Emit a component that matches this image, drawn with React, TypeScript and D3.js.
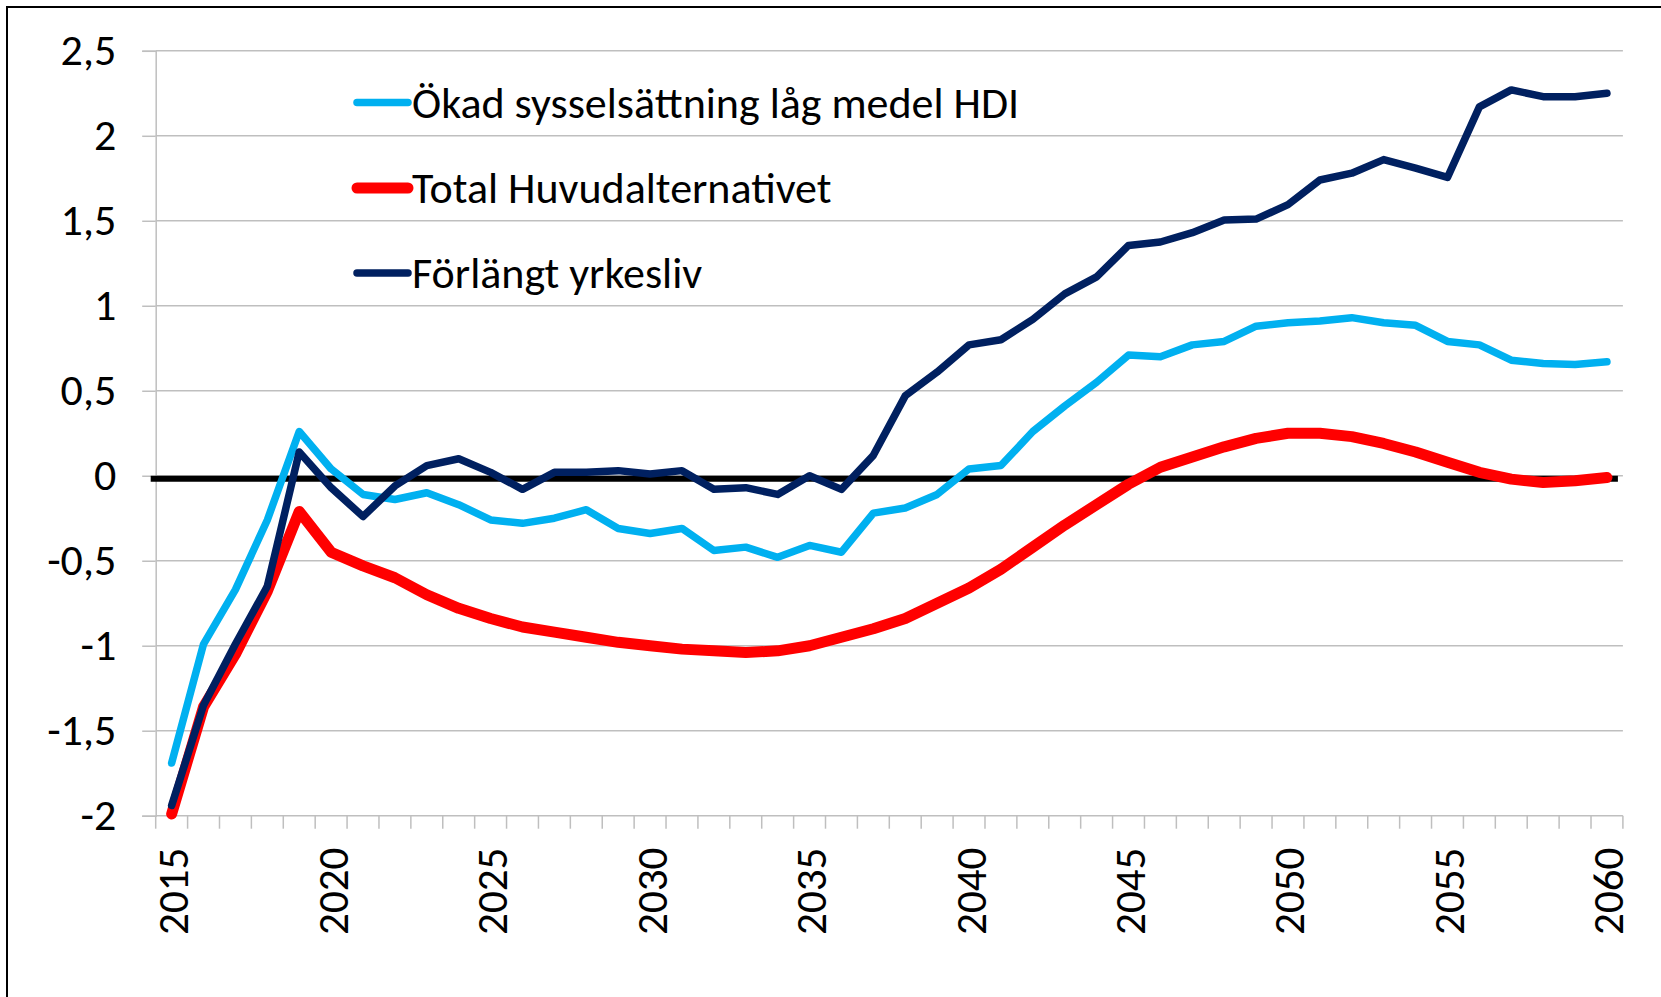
import React, { useEffect, useRef } from 'react';
import * as d3 from 'd3';

const years = d3.range(2015, 2061);

// Ökad sysselsättning låg medel HDI
const okadSysselsattning = [
  -1.69, -0.99, -0.67, -0.26, 0.26, 0.04, -0.11, -0.14, -0.10, -0.17,
  -0.26, -0.28, -0.25, -0.20, -0.31, -0.34, -0.31, -0.44, -0.42, -0.48,
  -0.41, -0.45, -0.22, -0.19, -0.11, 0.04, 0.06, 0.26, 0.41, 0.55,
  0.71, 0.70, 0.77, 0.79, 0.88, 0.90, 0.91, 0.93, 0.90, 0.885,
  0.79, 0.77, 0.68, 0.66, 0.655, 0.67,
];

// Total Huvudalternativet
const totalHuvudalternativet = [
  -1.99, -1.36, -1.05, -0.68, -0.21, -0.45, -0.53, -0.60, -0.70, -0.78,
  -0.84, -0.89, -0.92, -0.95, -0.98, -1.00, -1.02, -1.03, -1.04, -1.03,
  -1.00, -0.95, -0.90, -0.84, -0.75, -0.66, -0.55, -0.42, -0.29, -0.17,
  -0.05, 0.05, 0.11, 0.17, 0.22, 0.25, 0.25, 0.23, 0.19, 0.14,
  0.08, 0.02, -0.02, -0.04, -0.03, -0.01,
];

// Förlängt yrkesliv
const forlangtYrkesliv = [
  -1.94, -1.35, -0.99, -0.65, 0.14, -0.07, -0.24, -0.06, 0.06, 0.10,
  0.02, -0.08, 0.02, 0.02, 0.03, 0.01, 0.03, -0.08, -0.07, -0.11,
  0.00, -0.08, 0.12, 0.47, 0.61, 0.77, 0.80, 0.92, 1.07, 1.17,
  1.355, 1.375, 1.43, 1.505, 1.51, 1.595, 1.74, 1.78, 1.86, 1.81,
  1.755, 2.17, 2.27, 2.23, 2.23, 2.25,
];

const yTicks = [-2, -1.5, -1, -0.5, 0, 0.5, 1, 1.5, 2, 2.5];
const xLabelYears = [2015, 2020, 2025, 2030, 2035, 2040, 2045, 2050, 2055, 2060];
const zeroLineLevel = -0.017;

const series = [
  { name: 'Ökad sysselsättning låg medel HDI', values: okadSysselsattning, color: '#00B0F0', width: 7.5 },
  { name: 'Total Huvudalternativet', values: totalHuvudalternativet, color: '#FF0000', width: 11 },
  { name: 'Förlängt yrkesliv', values: forlangtYrkesliv, color: '#002060', width: 7.5 },
];

const W = 1661;
const H = 997;
const FONT = "Carlito, Calibri, 'Open Sans', sans-serif";

const App = () => {
  const svgRef = useRef<SVGSVGElement>(null);

  useEffect(() => {
    const svg = d3.select(svgRef.current);
    svg.selectAll('*').remove();

    const left = 155.7;
    const right = 1622.9;
    const top = 50.8;
    const bottom = 815.7;

    const x = d3.scaleBand<number>().domain(years).range([left, right]).padding(0);
    const cx = (yr: number) => (x(yr) as number) + x.bandwidth() / 2;
    const y = d3.scaleLinear().domain([-2, 2.5]).range([bottom, top]);

    // outer frame (extends past the window at right and bottom)
    svg.append('rect')
      .attr('x', 7).attr('y', 7)
      .attr('width', W + 20).attr('height', H + 20)
      .attr('fill', 'white')
      .attr('stroke', 'black')
      .attr('stroke-width', 2);

    // y axis with ticks and labels (comma decimals, plain hyphen)
    const yAxis = svg.append('g')
      .attr('transform', `translate(${left},0)`)
      .call(d3.axisLeft(y)
        .tickValues(yTicks)
        .tickSize(13.5)
        .tickFormat(d => String(d).replace('.', ','))
        .tickPadding(26));
    yAxis.select('.domain').attr('stroke', '#BFBFBF').attr('stroke-width', 1.5);
    yAxis.selectAll('line').attr('stroke', '#BFBFBF').attr('stroke-width', 1.5);
    yAxis.selectAll('text')
      .attr('font-family', FONT)
      .attr('font-size', 44)
      .attr('fill', 'black');

    // horizontal gridlines
    svg.append('g')
      .selectAll('line')
      .data(yTicks)
      .enter().append('line')
      .attr('x1', left).attr('x2', right)
      .attr('y1', d => y(d)).attr('y2', d => y(d))
      .attr('stroke', '#BFBFBF')
      .attr('stroke-width', 1.5);

    // x axis: ticks at category boundaries
    const boundaries = [...years.map(yr => x(yr) as number), right];
    svg.append('g')
      .selectAll('line')
      .data(boundaries)
      .enter().append('line')
      .attr('x1', d => d).attr('x2', d => d)
      .attr('y1', bottom).attr('y2', bottom + 13)
      .attr('stroke', '#BFBFBF')
      .attr('stroke-width', 1.5);

    svg.append('g')
      .selectAll('text')
      .data(xLabelYears)
      .enter().append('text')
      .attr('transform', d => `translate(${cx(d) + 2},${bottom + 32}) rotate(-90)`)
      .attr('text-anchor', 'end')
      .attr('dominant-baseline', 'central')
      .attr('font-family', FONT)
      .attr('font-size', 43)
      .attr('fill', 'black')
      .text(d => d);

    // black zero line
    svg.append('line')
      .attr('x1', left - 5).attr('x2', right - 5)
      .attr('y1', y(zeroLineLevel)).attr('y2', y(zeroLineLevel))
      .attr('stroke', 'black')
      .attr('stroke-width', 6);

    // series lines
    const line = d3.line<number>()
      .x((d, i) => cx(years[i]))
      .y(d => y(d));

    series.forEach(s => {
      svg.append('path')
        .datum(s.values)
        .attr('fill', 'none')
        .attr('stroke', s.color)
        .attr('stroke-width', s.width)
        .attr('stroke-linejoin', 'round')
        .attr('stroke-linecap', 'round')
        .attr('d', line);
    });

    // legend
    const legend = svg.append('g');
    const legendY = [102.5, 188, 273];
    series.forEach((s, i) => {
      legend.append('line')
        .attr('x1', 357).attr('x2', 408)
        .attr('y1', legendY[i]).attr('y2', legendY[i])
        .attr('stroke', s.color)
        .attr('stroke-width', s.width)
        .attr('stroke-linecap', 'round');
      legend.append('text')
        .attr('x', 412)
        .attr('y', legendY[i])
        .attr('dominant-baseline', 'central')
        .attr('font-family', FONT)
        .attr('font-size', 44)
        .attr('fill', 'black')
        .text(s.name);
    });
  }, []);

  return (
    <svg
      ref={svgRef}
      width={W}
      height={H}
      style={{ position: 'fixed', top: 0, left: 0, background: 'white' }}
    ></svg>
  );
};

export default App;
